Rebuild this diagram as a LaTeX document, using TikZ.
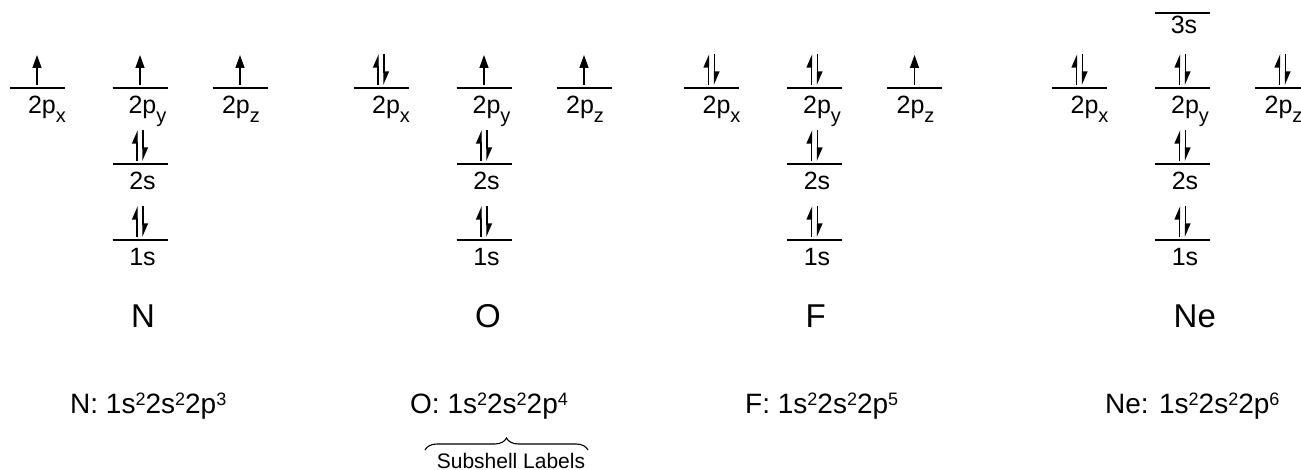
\documentclass[tikz,border=0pt]{standalone}
\usepackage{fontspec}
\setmainfont{Liberation Sans}
\usetikzlibrary{arrows.meta,decorations.pathreplacing}
\newcommand\sbs[1]{\raisebox{-9pt}{\fontsize{20}{20}\selectfont #1}}
\newcommand\sps[1]{\raisebox{8pt}{\fontsize{18}{18}\selectfont #1}}
\newcommand\orblevel[3]{%
  \coordinate (#1l) at (#2-27.5,#3);
  \coordinate (#1r) at (#2+27.5,#3);
  \draw[level] (#1l) -- (#1r);}
\newcommand\oneup[3]{%
  \coordinate (#1a) at (#2,#3-3);
  \coordinate (#1b) at (#2,#3-33);
  \draw[uparrow] (#1a) -- (#1b);}
\newcommand\twoup[3]{%
  \coordinate (#1a) at (#2-3,#3-3);
  \coordinate (#1b) at (#2-3,#3-34);
  \coordinate (#1c) at (#2+3,#3-34);
  \coordinate (#1d) at (#2+3,#3-3);
  \draw[harp] (#1a) -- (#1b);
  \draw[harp] (#1c) -- (#1d);}
\newcommand\pgroup[6]{%
  \orblevel{#1px}{#2-103}{88}
  \orblevel{#1py}{#2}{88}
  \orblevel{#1pz}{#2+100}{88}
  \orblevel{#1stwo}{#2}{164}
  \orblevel{#1sone}{#2}{240}
  #3{#1pxe}{#2-103}{88}
  #4{#1pye}{#2}{88}
  #5{#1pze}{#2+100}{88}
  \twoup{#1stwoe}{#2}{164}
  \twoup{#1sonee}{#2}{240}
  \node[orb] (#1pxt) at (#2-93,114) {2p\sbs{x}};
  \node[orb] (#1pyt) at (#2+7.5,114) {2p\sbs{y}};
  \node[orb] (#1pzt) at (#2+101,114) {2p\sbs{z}};
  \node[orb] (#1stwot) at (#2+2.5,190) {2s};
  \node[orb] (#1sonet) at (#2+2.5,266) {1s};
  \node[elem] (#1sym) at (#2-9,327) {#6};}
\begin{document}
\begin{tikzpicture}[x=1pt,y=-1pt,
  level/.style={line width=1.8pt},
  orb/.style={anchor=base, inner sep=0pt, font=\fontsize{25}{30}\selectfont},
  elem/.style={anchor=base west, inner sep=0pt, font=\fontsize{33}{40}\selectfont},
  conf/.style={anchor=base west, inner sep=0pt, font=\fontsize{28}{34}\selectfont},
  uparrow/.style={line width=1.4pt, -{Triangle[length=13pt,width=9pt]}},
  harp/.style={line width=1.4pt, -{Triangle[harpoon,length=12pt,width=10pt]}},
  bracestyle/.style={line width=1.1pt, decorate, decoration={brace, amplitude=12pt}},
]
\useasboundingbox (0,0) rectangle (1301,470);
\pgroup{N}{140}{\oneup}{\oneup}{\oneup}{N}
\pgroup{O}{484}{\twoup}{\oneup}{\oneup}{O}
\pgroup{F}{814.5}{\twoup}{\twoup}{\oneup}{F}
\pgroup{Ne}{1182.5}{\twoup}{\twoup}{\twoup}{Ne}
\orblevel{Nethree}{1182.5}{13}
\node[orb] (Nethreet) at (1184,34) {3s};
\node[conf] (Nconf) at (70,413) {N: 1s\sps{2}2s\sps{2}2p\sps{3}};
\node[conf] (Oconf) at (410,413) {O: 1s\sps{2}2s\sps{2}2p\sps{4}};
\node[conf] (Fconf) at (745,413) {F: 1s\sps{2}2s\sps{2}2p\sps{5}};
\node[conf] (Neconf) at (1105,413) {Ne: 1s\sps{2}2s\sps{2}2p\sps{6}};
\coordinate (brL) at (425,450);
\coordinate (brR) at (588,450);
\draw[bracestyle] (brL) -- (brR);
\node[anchor=base, inner sep=0pt, font=\fontsize{21}{24}\selectfont] (sub) at (511,468) {Subshell Labels};
\end{tikzpicture}
\end{document}
